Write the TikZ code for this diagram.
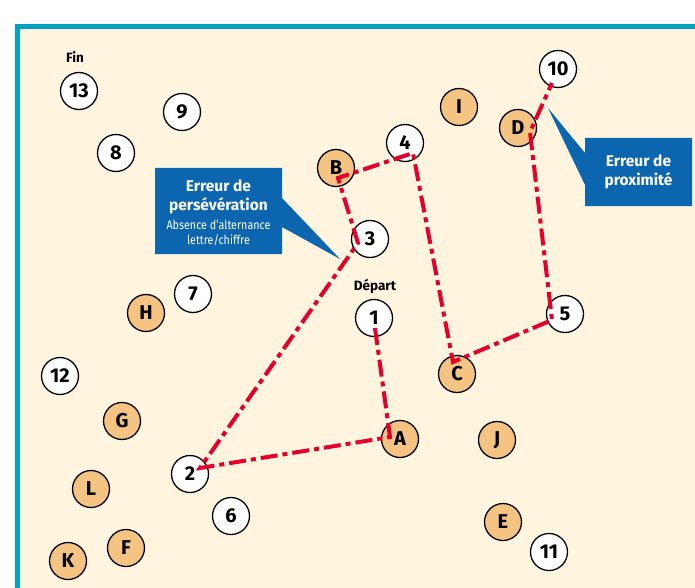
\documentclass[tikz,border=0pt]{standalone}
\usepackage{fontspec}
\setmainfont{Fira Sans}
\usetikzlibrary{calc}
\definecolor{frameteal}{RGB}{0,164,190}
\definecolor{paper}{RGB}{255,244,222}
\definecolor{letterfill}{RGB}{246,196,130}
\definecolor{calloutblue}{RGB}{12,101,175}
\definecolor{routered}{RGB}{228,0,43}
\tikzset{
  num/.style={circle,draw=black,line width=1.3pt,fill=white,minimum size=37pt,inner sep=0pt,
    font=\fontsize{20}{20}\selectfont\bfseries},
  let/.style={num,fill=letterfill},
  tag/.style={font=\fontsize{13.5}{14}\selectfont\bfseries,inner sep=0pt},
  route/.style={routered,line width=4pt,dash pattern=on 17pt off 5pt on 5pt off 5pt},
  callout/.style={fill=calloutblue,draw=none},
  calltitle/.style={text=white,font=\fontsize{15.5}{19}\selectfont\bfseries,align=center,inner sep=0pt},
  callsub/.style={text=white,font=\fontsize{12.5}{15}\selectfont,align=center,inner sep=0pt}
}
\begin{document}
\begin{tikzpicture}[x=1pt,y=-1pt]
\useasboundingbox (0,0) rectangle (695,588);
% page frame
\fill[white] (0,0) rectangle (695,588);
\fill[paper] (17,26) rectangle (700,595);
\draw[frameteal,line width=5pt] (17.5,594) -- (17.5,26.5) -- (700,26.5);

% number circles
\node[num] (n1)  at (374,318) {1};
\node[num] (n2)  at (190,474) {2};
\node[num] (n3)  at (370,239) {3};
\node[num] (n4)  at (405,143) {4};
\node[num] (n5)  at (565,314) {5};
\node[num] (n6)  at (231,516) {6};
\node[num] (n7)  at (193,294) {7};
\node[num] (n8)  at (116,153) {8};
\node[num] (n9)  at (182,112) {9};
\node[num] (n10) at (558,69)  {10};
\node[num] (n11) at (549,552) {11};
\node[num] (n12) at (60,376)  {12};
\node[num] (n13) at (79,91)   {13};

% letter circles
\node[let] (lA) at (400,439) {A};
\node[let] (lB) at (336,168) {B};
\node[let] (lC) at (457,374) {C};
\node[let] (lD) at (518,128) {D};
\node[let] (lE) at (503,522) {E};
\node[let] (lF) at (126,548) {F};
\node[let] (lG) at (122,421) {G};
\node[let] (lH) at (146,313) {H};
\node[let] (lI) at (459,107) {I};
\node[let] (lJ) at (497,440) {J};
\node[let] (lK) at (68,561)  {K};
\node[let] (lL) at (91,489)  {L};

% start and end labels
\node[tag] (fin) at (75,57) {Fin};
\node[tag] (dep) at (375,286) {Départ};

% corner points of the traced path inside each circle
\coordinate (p1)  at ($(n1)+(1,10)$);
\coordinate (pA)  at ($(lA)+(-10,-2)$);
\coordinate (p2)  at ($(n2)+(10,-6)$);
\coordinate (p3)  at ($(n3)+(-12,4)$);
\coordinate (pB)  at ($(lB)+(2,10)$);
\coordinate (p4)  at ($(n4)+(8,10)$);
\coordinate (pC)  at ($(lC)+(-4,-12)$);
\coordinate (p5)  at ($(n5)+(-13,6)$);
\coordinate (pD)  at ($(lD)+(12,4)$);
\coordinate (p10) at ($(n10)+(-6,14)$);

% callouts
\fill[callout] (155,168) -- (282,168) -- (282,198) -- (340,259) -- (282,227)
  -- (282,254) -- (155,254) -- cycle;
\node[calltitle] (t1) at (218.5,197) {Erreur de\\persévération};
\node[callsub] (s1) at (218.5,233) {\scalebox{0.86}[1]{Absence d’alternance}\\\scalebox{0.86}[1]{lettre/chiffre}};

\fill[callout] (585,138) -- (692,138) -- (692,206) -- (585,206) -- (585,185)
  -- (548,108) -- (585,153) -- cycle;
\node[calltitle] (t2) at (638.5,172) {Erreur de\\proximité};

% traced path
\draw[route,line join=miter] (p1) -- (pA) -- (p2) -- (p3) -- (pB) -- (p4) -- (pC)
  -- (p5) -- (pD) -- (p10);
\end{tikzpicture}
\end{document}
